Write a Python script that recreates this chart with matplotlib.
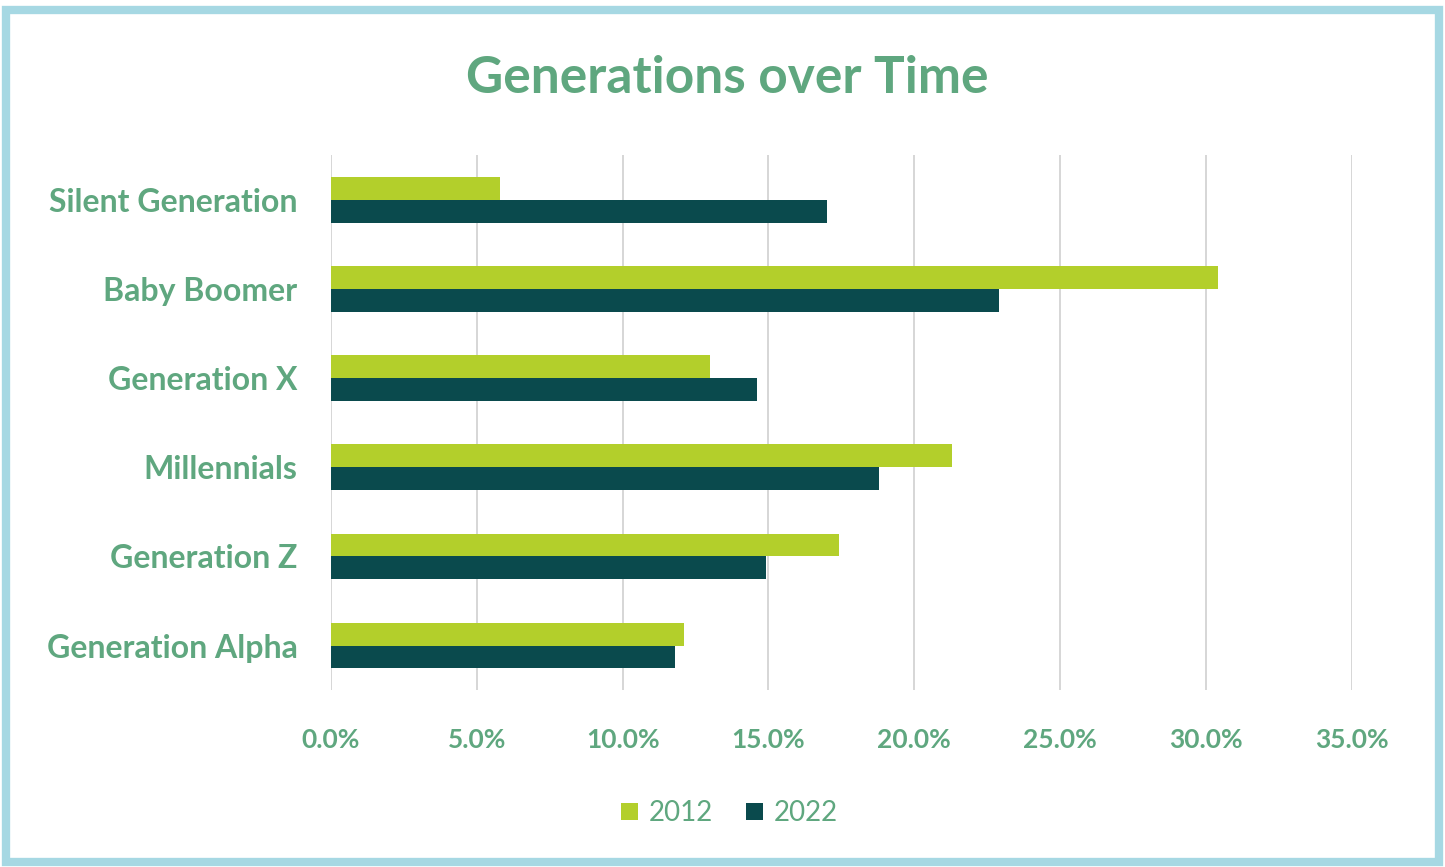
import numpy as np
import matplotlib.pyplot as plt
from matplotlib.patches import Rectangle
from matplotlib.ticker import FuncFormatter

categories = ["Silent Generation", "Baby Boomer", "Generation X",
              "Millennials", "Generation Z", "Generation Alpha"]
share_2012 = [5.8, 30.4, 13.0, 21.3, 17.4, 12.1]
share_2022 = [17.0, 22.9, 14.6, 18.8, 14.9, 11.8]
series_names = ["2012", "2022"]
x_ticks = [0, 5, 10, 15, 20, 25, 30, 35]

c_2012 = "#b3cf2b"
c_2022 = "#0a4a4d"
text_green = "#5fa77f"

plt.rcParams["font.family"] = ["Lato", "DejaVu Sans"]

fig = plt.figure(figsize=(14.45, 8.67), dpi=100)
fig.patch.set_facecolor("white")

# light blue frame round the chart
fig.patches.append(Rectangle((0.004, 0.006), 0.992, 0.982, transform=fig.transFigure,
                             fill=False, edgecolor="#a6d8e3", linewidth=6))

ax = fig.add_axes([0.229, 0.204, 0.7066, 0.617])

y = np.arange(len(categories))
h = 0.256
ax.barh(y - h / 2, share_2012, height=h, color=c_2012, label=series_names[0], zorder=3)
ax.barh(y + h / 2, share_2022, height=h, color=c_2022, label=series_names[1], zorder=3)

ax.set_xlim(0, 35)
ax.set_ylim(len(categories) - 0.5, -0.5)
ax.set_xticks(x_ticks)
ax.xaxis.set_major_formatter(FuncFormatter(lambda v, p: f"{v:.1f}%"))
ax.set_yticks(y)
ax.set_yticklabels(categories)

ax.grid(axis="x", color="#d0d0d0", linewidth=1.2, zorder=0)
for s in ax.spines.values():
    s.set_visible(False)
ax.tick_params(axis="both", length=0)
ax.tick_params(axis="x", pad=27, labelsize=19, labelcolor=text_green)
ax.tick_params(axis="y", pad=24, labelsize=23, labelcolor=text_green)
for lab in ax.get_xticklabels() + ax.get_yticklabels():
    lab.set_fontweight("bold")

fig.text(0.503, 0.91, "Generations over Time", ha="center", va="center",
         fontsize=37, fontweight="bold", color=text_green)

fig.legend(loc="center", bbox_to_anchor=(0.505, 0.062), ncol=2, frameon=False,
           fontsize=20, labelcolor=text_green, handlelength=0.6, handleheight=0.6,
           handletextpad=0.4, columnspacing=1.2)

fig.savefig("out.png", dpi=100)
